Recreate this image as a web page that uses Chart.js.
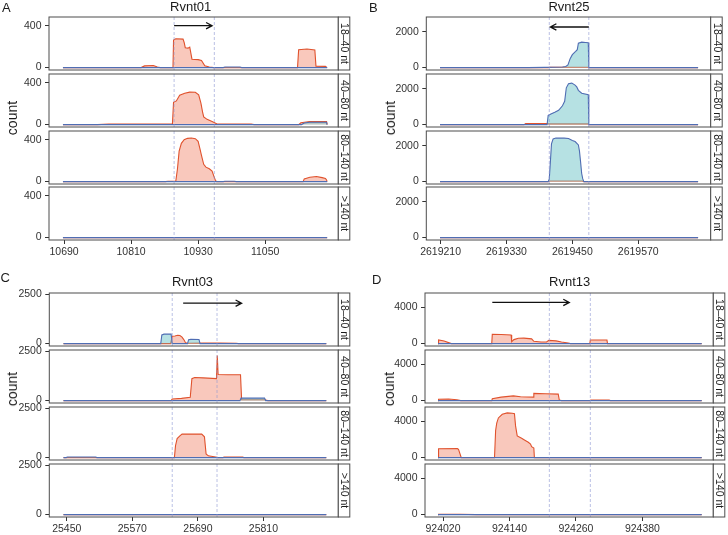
<!DOCTYPE html>
<html>
<head>
<meta charset="utf-8">
<script src="https://cdn.jsdelivr.net/npm/chart.js@4.4.0/dist/chart.umd.min.js"></script>
<style>
  body { margin: 0; background: #fff; width: 728px; height: 535px; position: relative; overflow: hidden;
         font-family: "Liberation Sans", Arial, sans-serif; color: #1a1a1a; }
  canvas { position: absolute; }
  .txt { position: absolute; white-space: nowrap; line-height: 1; }
  .count { position: absolute; white-space: nowrap; line-height: 1; font-size: 14px; transform: translate(-50%, -50%) rotate(-90deg); }
</style>
</head>
<body>
<script>
const strips = ['18–40 nt', '40–80 nt', '80–140 nt', '>140 nt'];

// Rvnt01 (positions in nt, counts)
const aTicksX = [10690, 10810, 10930, 11050];
const aTicksY = [0, 400];
const aBounds = [10887, 10959];
const aArrow = [10887, 10955, 400];
const aRed1 = [[10688,0],[10828,0],[10834,16],[10850,20],[10857,6],[10862,0],[10885,0],[10886,262],[10890,275],[10903,272],[10905,240],[10907,190],[10912,186],[10915,196],[10919,80],[10930,76],[10936,68],[10942,18],[10950,5],[10958,0],[11108,0],[11110,170],[11125,178],[11139,168],[11141,14],[11158,12],[11161,0]];
const aBlue1 = [[10688,0],[10975,0],[10978,5],[11005,5],[11008,0],[11161,0]];
const aRed2 = [[10688,0],[10750,0],[10770,5],[10884,6],[10886,212],[10891,226],[10897,280],[10906,300],[10915,310],[10925,309],[10931,285],[10935,205],[10938,120],[10940,74],[10946,50],[10955,29],[10964,6],[11025,5],[11030,0],[11110,0],[11114,18],[11130,30],[11160,28],[11161,0]];
const aBlue2 = [[10688,0],[11115,0],[11120,16],[11130,22],[11160,22],[11161,0]];
const aRed3 = [[10688,0],[10872,0],[10876,3],[10890,3],[10893,120],[10896,290],[10900,365],[10905,400],[10911,413],[10918,416],[10925,410],[10930,385],[10933,320],[10936,250],[10940,165],[10944,138],[10950,122],[10955,100],[10958,55],[10961,12],[10963,0],[11118,0],[11120,26],[11130,42],[11142,48],[11152,38],[11158,30],[11160,15],[11161,0]];
const aBlue3 = [[10688,0],[10975,0],[10978,3],[10995,3],[10998,0],[11161,0]];
const aRed4 = [[10688,0],[11161,0]];
const aBlue4 = [[10688,0],[11161,0]];

// Rvnt25
const bTicksX = [2619210, 2619330, 2619450, 2619570];
const bTicksY = [0, 2000];
const bBounds = [2619408, 2619480];
const bArrow = [2619480, 2619410, 2263];
const bRed1 = [[2619209,0],[2619406,0],[2619409,20],[2619478,20],[2619480,0],[2619679,0]];
const bBlue1 = [[2619209,0],[2619370,0],[2619400,12],[2619432,35],[2619438,60],[2619442,150],[2619446,500],[2619450,720],[2619456,900],[2619459,1000],[2619461,1360],[2619467,1420],[2619474,1400],[2619479,1380],[2619480,0],[2619679,0]];
const bRed2 = [[2619209,0],[2619362,0],[2619365,60],[2619404,60],[2619407,40],[2619478,40],[2619480,0],[2619679,0]];
const bBlue2 = [[2619209,0],[2619404,0],[2619406,510],[2619411,590],[2619418,690],[2619425,800],[2619432,1050],[2619436,1300],[2619439,2050],[2619443,2280],[2619449,2310],[2619455,2200],[2619458,2100],[2619461,1910],[2619467,1750],[2619479,1665],[2619480,0],[2619679,0]];
const bRed3 = [[2619209,0],[2619406,0],[2619409,35],[2619468,35],[2619471,0],[2619679,0]];
const bBlue3 = [[2619209,0],[2619406,0],[2619408,150],[2619410,1100],[2619412,2100],[2619415,2380],[2619420,2425],[2619435,2420],[2619443,2400],[2619450,2290],[2619455,2230],[2619461,2040],[2619463,1700],[2619465,1100],[2619467,450],[2619469,150],[2619471,0],[2619679,0]];
const bRed4 = [[2619209,0],[2619679,0]];
const bBlue4 = [[2619209,0],[2619679,0]];

// Rvnt03
const cTicksX = [25450, 25570, 25690, 25810];
const cTicksY = [0, 2500];
const cBounds = [25643, 25725];
const cArrow = [25663, 25770, 2047];
const cRed1 = [[25444,0],[25640,0],[25643,375],[25648,385],[25653,425],[25657,410],[25661,330],[25665,170],[25667,60],[25670,18],[25700,22],[25730,25],[25760,18],[25764,0],[25925,0]];
const cBlue1 = [[25444,0],[25622,0],[25624,440],[25628,480],[25641,478],[25643,0],[25671,0],[25673,200],[25677,212],[25692,208],[25694,0],[25925,0]];
const cRed2 = [[25444,0],[25641,0],[25643,80],[25660,110],[25676,170],[25679,1110],[25684,1170],[25700,1150],[25724,1115],[25725.5,2280],[25727,1320],[25745,1310],[25768,1305],[25770,50],[25812,45],[25818,0],[25925,0]];
const cBlue2 = [[25444,0],[25767,0],[25769,130],[25812,125],[25814,0],[25925,0]];
const cRed3 = [[25444,0],[25647,0],[25649,600],[25652,960],[25657,1100],[25661,1190],[25697,1190],[25702,1050],[25705,180],[25709,90],[25725,20],[25727,0],[25736,0],[25738,30],[25772,30],[25774,0],[25925,0]];
const cBlue3 = [[25444,0],[25449,0],[25451,30],[25503,30],[25505,0],[25925,0]];
const cRed4 = [[25444,0],[25925,0]];
const cBlue4 = [[25444,0],[25925,0]];

// Rvnt13
const dTicksX = [924020, 924140, 924260, 924380];
const dTicksY = [0, 4000];
const dBounds = [924212, 924286];
const dArrow = [924109, 924248, 4550];
const dRed1 = [[924011,0],[924012,400],[924022,280],[924035,0],[924108,0],[924109,1020],[924125,1010],[924143,950],[924144,200],[924148,440],[924156,590],[924166,600],[924180,520],[924184,250],[924197,180],[924207,170],[924211,350],[924224,300],[924234,180],[924246,60],[924250,0],[924285,0],[924286,400],[924316,390],[924317,0],[924487,0]];
const dRed2 = [[924011,0],[924012,150],[924030,180],[924045,100],[924052,0],[924108,0],[924109,200],[924125,380],[924147,520],[924160,430],[924183,380],[924184,800],[924205,760],[924228,720],[924230,60],[924234,0],[924285,0],[924287,60],[924320,50],[924322,0],[924487,0]];
const dRed3 = [[924011,0],[924012,980],[924046,990],[924048,900],[924053,0],[924113,0],[924115,3000],[924117,3800],[924120,4380],[924127,4780],[924136,4940],[924145,4900],[924149,4850],[924151,3500],[924154,2400],[924162,2130],[924167,1950],[924174,1700],[924178,1500],[924180,1200],[924184,1050],[924185,0],[924487,0]];
const dRed4 = [[924011,0],[924012,40],[924050,40],[924080,0],[924487,0]];
const dBlue = [[924011,0],[924487,0]];

const redLine = '#e0522d';
const redFill = 'rgba(238,110,80,0.38)';
const blueLine = '#4f6db3';
const blueFill = 'rgba(110,195,200,0.5)';
const dashColor = 'rgba(140,150,210,0.75)';
const frameColor = '#4d4d4d';
const font = '"Liberation Sans", Arial, sans-serif';

const panels = [
  { letter: 'A', name: 'Rvnt01', left: 0, tops: [17, 74, 131, 187], plotL: 49, plotR: 338.3,
    xr: [10663, 11181], yr: [-23, 483], ticksX: aTicksX, ticksY: aTicksY, bounds: aBounds, arrow: aArrow,
    red: [aRed1, aRed2, aRed3, aRed4], blue: [aBlue1, aBlue2, aBlue3, aBlue4],
    letterPos: [2, 11.7], titleX: 190.7, titleY: 11, countPos: [12, 118] },
  { letter: 'B', name: 'Rvnt25', left: 364, tops: [17, 74, 131, 187], plotL: 426.3, plotR: 710.7,
    xr: [2619184, 2619702], yr: [-134, 2819], ticksX: bTicksX, ticksY: bTicksY, bounds: bBounds, arrow: bArrow,
    red: [bRed1, bRed2, bRed3, bRed4], blue: [bBlue1, bBlue2, bBlue3, bBlue4],
    letterPos: [369, 11.7], titleX: 569, titleY: 11, countPos: [390, 118] },
  { letter: 'C', name: 'Rvnt03', left: 0, tops: [293, 350, 407, 464], plotL: 49.3, plotR: 338.3,
    xr: [25418, 25947], yr: [-122, 2562], ticksX: cTicksX, ticksY: cTicksY, bounds: cBounds, arrow: cArrow,
    red: [cRed1, cRed2, cRed3, cRed4], blue: [cBlue1, cBlue2, cBlue3, cBlue4],
    letterPos: [0.5, 282], titleX: 192.5, titleY: 286, countPos: [12, 389] },
  { letter: 'D', name: 'Rvnt13', left: 364, tops: [293, 350, 407, 464], plotL: 425, plotR: 713.3,
    xr: [923987.5, 924508], yr: [-266, 5590], ticksX: dTicksX, ticksY: dTicksY, bounds: dBounds, arrow: dArrow,
    red: [dRed1, dRed2, dRed3, dRed4], blue: [dBlue, dBlue, dBlue, dBlue],
    letterPos: [372, 284], titleX: 569.7, titleY: 286, countPos: [388.5, 389] }
];

const facetH = 53;
const pad = 7;
const stripW = 11.5;

function toXY(pts) {
  return pts.map(([x, y]) => ({ x: x, y: y }));
}

const facetDecor = {
  id: 'facetDecor',
  afterDatasetsDraw(chart, args, opts) {
    const ctx = chart.ctx;
    const a = chart.chartArea;
    const x = chart.scales.x;
    const y = chart.scales.y;
    ctx.save();

    // feature boundaries
    ctx.setLineDash([3, 2]);
    ctx.strokeStyle = dashColor;
    ctx.lineWidth = 0.8;
    opts.bounds.forEach(v => {
      const px = x.getPixelForValue(v);
      ctx.beginPath();
      ctx.moveTo(px, a.top);
      ctx.lineTo(px, a.bottom);
      ctx.stroke();
    });
    ctx.setLineDash([]);

    // direction arrow (top facet only)
    if (opts.arrow) {
      const x1 = x.getPixelForValue(opts.arrow[0]);
      const x2 = x.getPixelForValue(opts.arrow[1]);
      const py = y.getPixelForValue(opts.arrow[2]);
      const dir = x2 > x1 ? 1 : -1;
      ctx.strokeStyle = '#111';
      ctx.lineWidth = 1.3;
      ctx.beginPath();
      ctx.moveTo(x1, py);
      ctx.lineTo(x2, py);
      ctx.moveTo(x2 - dir * 6, py - 3.2);
      ctx.lineTo(x2, py);
      ctx.lineTo(x2 - dir * 6, py + 3.2);
      ctx.stroke();
    }

    // panel frame
    ctx.strokeStyle = frameColor;
    ctx.lineWidth = 1;
    ctx.strokeRect(a.left, a.top, a.right - a.left, a.bottom - a.top);

    // strip
    ctx.fillStyle = '#fff';
    ctx.fillRect(a.right, a.top, stripW, a.bottom - a.top);
    ctx.strokeRect(a.right, a.top, stripW, a.bottom - a.top);
    ctx.translate(a.right + stripW / 2, (a.top + a.bottom) / 2);
    ctx.rotate(Math.PI / 2);
    ctx.fillStyle = '#1a1a1a';
    ctx.font = '10.5px ' + font;
    ctx.textAlign = 'center';
    ctx.textBaseline = 'middle';
    ctx.fillText(opts.label, 0, 0);
    ctx.restore();
  }
};

function facetChart(p, i) {
  const last = i === 3;
  const cv = document.createElement('canvas');
  cv.width = 364;
  cv.height = pad + facetH + (last ? 22 : pad);
  cv.style.left = p.left + 'px';
  cv.style.top = (p.tops[i] - pad) + 'px';
  document.body.appendChild(cv);

  new Chart(cv, {
    type: 'line',
    data: {
      datasets: [
        { data: toXY(p.blue[i]), borderColor: blueLine, backgroundColor: blueFill, fill: 'origin', order: 0 },
        { data: toXY(p.red[i]), borderColor: redLine, backgroundColor: redFill, fill: 'origin', order: 1 }
      ]
    },
    options: {
      responsive: false,
      animation: false,
      events: [],
      layout: { padding: { left: 0, right: 364 - (p.plotR - p.left), top: pad, bottom: last ? 0 : pad } },
      elements: { point: { radius: 0 }, line: { borderWidth: 1.1, tension: 0 } },
      plugins: {
        legend: { display: false },
        tooltip: { enabled: false },
        facetDecor: { bounds: p.bounds, arrow: i === 0 ? p.arrow : null, label: strips[i] }
      },
      scales: {
        x: {
          type: 'linear',
          min: p.xr[0],
          max: p.xr[1],
          display: last,
          afterBuildTicks: axis => { axis.ticks = p.ticksX.map(v => ({ value: v })); },
          afterFit: s => { if (last) { s.height = 22; s.paddingLeft = 0; s.paddingRight = 0; } },
          border: { display: false },
          grid: { drawOnChartArea: false, drawTicks: true, tickLength: 4, tickColor: '#333', tickWidth: 1 },
          ticks: { padding: 2, maxRotation: 0, autoSkip: false, color: '#333',
                   font: { family: font, size: 10.5 }, callback: v => String(v) }
        },
        y: {
          type: 'linear',
          min: p.yr[0],
          max: p.yr[1],
          afterBuildTicks: axis => { axis.ticks = p.ticksY.map(v => ({ value: v })); },
          afterFit: s => { s.width = p.plotL - p.left; s.paddingTop = 0; s.paddingBottom = 0; },
          border: { display: false },
          grid: { drawOnChartArea: false, drawTicks: true, tickLength: 4, tickColor: '#333', tickWidth: 1 },
          ticks: { padding: 3.5, color: '#333', font: { family: font, size: 10.5 }, callback: v => String(v) }
        }
      }
    },
    plugins: [facetDecor]
  });
}

function addText(str, x, baseline, size) {
  const d = document.createElement('div');
  d.className = 'txt';
  d.textContent = str;
  d.style.fontSize = size + 'px';
  d.style.top = (baseline - 0.8465 * size) + 'px';
  d.style.left = x + 'px';
  document.body.appendChild(d);
  return d;
}

panels.forEach(p => {
  for (let i = 0; i < 4; i++) facetChart(p, i);
  addText(p.letter, p.letterPos[0], p.letterPos[1], 13);
  const t = addText(p.name, p.titleX, p.titleY, 13);
  t.style.transform = 'translateX(-50%)';
  const c = document.createElement('div');
  c.className = 'count';
  c.textContent = 'count';
  c.style.left = p.countPos[0] + 'px';
  c.style.top = p.countPos[1] + 'px';
  document.body.appendChild(c);
});
</script>
</body>
</html>
